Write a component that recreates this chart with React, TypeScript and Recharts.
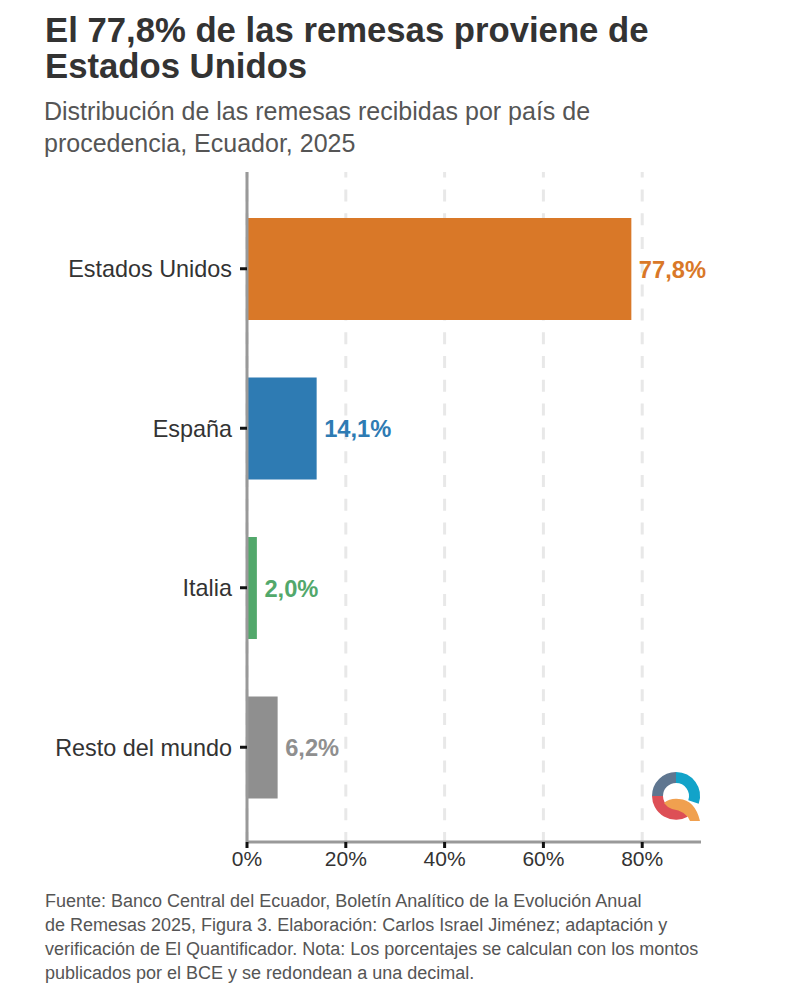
import React from 'react';
import { BarChart, Bar, XAxis, YAxis, CartesianGrid, Cell } from 'recharts';

const countries = ['Estados Unidos', 'España', 'Italia', 'Resto del mundo'];
const shares = [77.8, 14.1, 2.0, 6.2];
const barColors = ['#d97828', '#2e7bb3', '#52a86b', '#8f8f8f'];
const xTicks = [0, 20, 40, 60, 80];

const data = countries.map((name, i) => ({ name, value: shares[i] }));
const FONT = '"Liberation Sans", Arial, sans-serif';

const renderValueLabel = (props: any) => {
  const { x, y, width, height, index, value } = props;
  return (
    <text
      x={x + width + 7.5}
      y={y + height / 2}
      dy="0.36em"
      fontFamily={FONT}
      fontSize={23.7}
      fontWeight="bold"
      fill={barColors[index]}
    >
      {value.toFixed(1).replace('.', ',')}%
    </text>
  );
};

const abs = (left: number, top: number): React.CSSProperties => ({
  position: 'absolute',
  left,
  top,
  fontFamily: FONT,
  whiteSpace: 'pre',
});

const App: React.FC = () => {
  return (
    <div style={{ position: 'absolute', left: 0, top: 0, width: 800, height: 1000, background: '#fff' }}>
      <BarChart
        width={800}
        height={1000}
        data={data}
        layout="vertical"
        margin={{ top: 172, right: 99, bottom: 0, left: 0 }}
      >
        <CartesianGrid
          horizontal={false}
          stroke="#e8e8e8"
          strokeWidth={3}
          strokeDasharray="12 11.8"
          strokeDashoffset={6.4}
          verticalValues={xTicks}
        />
        <XAxis
          type="number"
          dataKey="value"
          domain={[0, 91.9]}
          ticks={xTicks}
          height={158}
          interval={0}
          tickFormatter={(v: number) => `${v}%`}
          axisLine={{ stroke: '#999999', strokeWidth: 3 }}
          tickLine={{ stroke: '#111111', strokeWidth: 3 }}
          tickSize={6}
          tickMargin={3}
          tick={{ fill: '#333333', fontSize: 21, fontFamily: FONT }}
        />
        <YAxis
          type="category"
          dataKey="name"
          width={247}
          padding={{ top: 17, bottom: 15 }}
          interval={0}
          axisLine={{ stroke: '#999999', strokeWidth: 3 }}
          tickLine={{ stroke: '#111111', strokeWidth: 3 }}
          tickSize={7}
          tickMargin={8}
          tick={{ fill: '#333333', fontSize: 23.4, fontFamily: FONT }}
        />
        <Bar dataKey="value" barSize={102} isAnimationActive={false} label={renderValueLabel}>
          {data.map((d, i) => (
            <Cell key={d.name} fill={barColors[i]} />
          ))}
        </Bar>
      </BarChart>

      <div style={{ ...abs(45, 12), fontSize: 34.7, fontWeight: 'bold', lineHeight: '36px', color: '#333333' }}>
        {'El 77,8% de las remesas proviene de\nEstados Unidos'}
      </div>
      <div style={{ ...abs(44, 95), fontSize: 25, lineHeight: '32px', color: '#555555' }}>
        {'Distribución de las remesas recibidas por país de\nprocedencia, Ecuador, 2025'}
      </div>
      <div style={{ ...abs(45, 889), fontSize: 18, lineHeight: '24px', color: '#555555' }}>
        {'Fuente: Banco Central del Ecuador, Boletín Analítico de la Evolución Anual\nde Remesas 2025, Figura 3. Elaboración: Carlos Israel Jiménez; adaptación y\nverificación de El Quantificador. Nota: Los porcentajes se calculan con los montos\npublicados por el BCE y se redondean a una decimal.'}
      </div>

      <svg style={{ position: 'absolute', left: 645, top: 765 }} width={64} height={64}>
        <g fill="none" strokeWidth={11}>
          <path d="M 31 12.5 A 18.5 18.5 0 0 1 48.5 37" stroke="#12a3c9" />
          <path d="M 12.5 31 A 18.5 18.5 0 0 1 31 12.5" stroke="#5f7690" />
          <path d="M 40 47 A 18.5 18.5 0 0 1 12.5 31" stroke="#dd4f56" />
        </g>
        <path d="M 19 38 Q 25 33 34 34 Q 50 35 55 56 L 45 56 Q 41 46 27 44 Q 22 42 19 38 Z" fill="#f0a04f" />
      </svg>
    </div>
  );
};

export default App;
